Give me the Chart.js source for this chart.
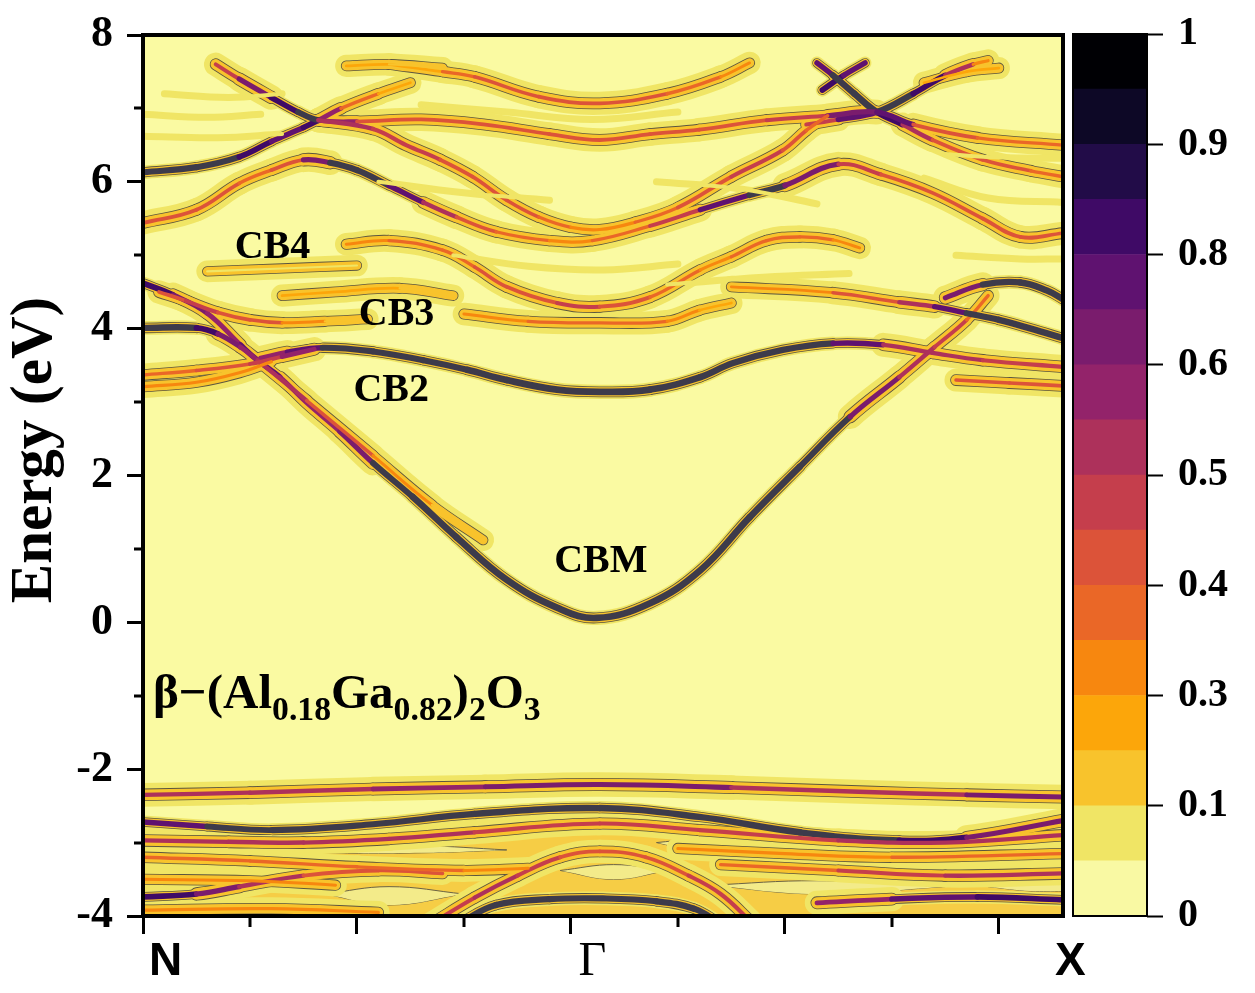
<!DOCTYPE html>
<html><head><meta charset="utf-8">
<script src="https://cdn.jsdelivr.net/npm/chart.js@4.4.1/dist/chart.umd.min.js"></script>
<style>
html,body{margin:0;padding:0;background:#fff;}
#wrap{position:relative;width:1255px;height:993px;overflow:hidden;}
#main{position:absolute;left:0;top:0;width:1255px;height:993px;}
#cbar{position:absolute;left:1060px;top:0;width:195px;height:993px;}
</style></head><body>
<div id="wrap"><canvas id="main" width="1255" height="993"></canvas><canvas id="cbar" width="195" height="993"></canvas></div>
<script>
// ---------- axes / ticks ----------
const kRange = [0, 8.6];
const eRange = [-4, 8];
const yMajorTicks = [-4, -2, 0, 2, 4, 6, 8];
const yMinorTicks = [-3, -1, 1, 3, 5, 7];
const kMajorTicks = [0, 2, 4, 6, 8];
const kMinorTicks = [1, 3, 5, 7];
const highSymNames = ['N', 'Γ', 'X'];
const highSymK = [0, 4.2, 8.6];
const bandLabelNames = ['CB4', 'CB3', 'CB2', 'CBM'];
const bandLabelK = [1.21, 2.37, 2.32, 4.28];
const bandLabelE = [5.10, 4.19, 3.16, 0.82];
// colour bar
const cbTicks = [0, 0.125, 0.25, 0.375, 0.5, 0.625, 0.75, 0.875, 1];
const cbLabels = ['0', '0.1', '0.3', '0.4', '0.5', '0.6', '0.8', '0.9', '1'];
const cbColors = ['#f9f9a3', '#f0e565', '#f8c32c', '#fca60a', '#f7870f', '#ea6727', '#dc5339', '#c53e4c',
                  '#ad315b', '#93236a', '#7a1c6d', '#5f1270', '#3f0a66', '#220c48', '#0d0826', '#000004'];

// ---------- bands: [k, E (eV), spectral weight] ----------
const bandCBM = [[0,4.62,.8],[0.28,4.46,.75],[0.6,4.21,.55],[0.91,3.78,.65],[1.07,3.57,.8],[1.28,3.34,.6],[1.53,2.99,.55],[1.84,2.6,.6],[2.15,2.17,.75],[2.52,1.71,.9],[2.93,1.16,.95],[3.4,0.58,.95],[3.87,0.2,.95],[4.24,0.06,.95],[4.74,0.26,.95],[5.21,0.71,.95],[5.67,1.43,.95],[6.14,2.12,.9],[6.61,2.8,.75],[7.07,3.34,.55],[7.4,3.75,.5],[7.7,4.12,.4],[7.9,4.45,.3]];
const bandN40 = [[0,4.01,.9],[0.5,4.01,.85],[0.7,3.93,.7],[0.91,3.75,.6],[1.07,3.57,.6],[1.53,3.02,.4],[2.15,2.27,.35],[2.7,1.6,.2],[3.18,1.12,.1]];
const bandN34a = [[0,3.37,.35],[0.5,3.43,.35],[1.0,3.52,.4],[1.3,3.62,.5],[1.6,3.72,.7]];
const bandN34b = [[0,3.21,.3],[0.5,3.27,.3],[0.9,3.4,.3],[1.2,3.55,.3]];
const bandCB2 = [[1.1,3.6,.6],[1.35,3.68,.6],[1.68,3.74,.85],[2.15,3.69,.85],[2.62,3.57,.8],[3.03,3.44,.9],[3.4,3.3,.95],[3.87,3.17,.95],[4.27,3.14,.95],[4.74,3.17,.95],[5.21,3.34,.9],[5.51,3.53,.85],[5.98,3.71,.9],[6.45,3.8,.85],[6.92,3.78,.55],[7.38,3.67,.5],[7.85,3.57,.5],[8.6,3.48,.45]];
const bandX32 = [[7.6,3.3,.35],[8.1,3.26,.4],[8.6,3.22,.4]];
const bandC4a = [[1.9,5.15,.25],[2.3,5.2,.3],[2.8,5.07,.35],[3.1,4.84,.35],[3.4,4.57,.4],[3.87,4.35,.45],[4.27,4.3,.45],[4.74,4.43,.4],[5.21,4.8,.3],[5.5,4.98,.3],[5.83,5.2,.35],[6.14,5.25,.35],[6.45,5.21,.3],[6.7,5.1,.2]];
const bandC3a = [[3.0,4.2,.25],[3.6,4.1,.3],[4.27,4.08,.35],[4.9,4.1,.3],[5.2,4.25,.25],[5.5,4.35,.2]];
const bandC3c = [[5.5,4.57,.2],[6.45,4.49,.3],[7.07,4.36,.45],[7.4,4.3,.6],[7.7,4.21,.8],[8.0,4.12,.9],[8.3,4.0,.9],[8.6,3.87,.9]];
const bandC3d = [[7.5,4.42,.5],[7.85,4.6,.8],[8.2,4.63,.9],[8.45,4.52,.9],[8.6,4.4,.9]];
const bandL1 = [[0.15,4.5,.4],[0.4,4.38,.45],[0.7,4.22,.45],[1.0,4.12,.4],[1.3,4.08,.35],[1.7,4.1,.2],[2.1,4.13,.12]];
const bandL2 = [[1.3,4.45,.2],[1.8,4.5,.25],[2.4,4.55,.2],[2.9,4.45,.15]];
const bandL3 = [[0.6,4.78,.1],[1.3,4.82,.14],[2.0,4.86,.1]];
const bandU1 = [[0,6.13,.85],[0.5,6.2,.85],[0.9,6.34,.8],[1.2,6.55,.7],[1.5,6.74,.7],[1.64,6.84,.8],[1.85,7.0,.4],[2.2,7.2,.3],[2.5,7.35,.15]];
const bandU2 = [[0.68,7.6,.3],[0.9,7.4,.6],[1.2,7.15,.75],[1.45,6.95,.8],[1.64,6.84,.8],[2.0,6.82,.4],[2.6,6.85,.4],[3.2,6.78,.4],[3.8,6.65,.4],[4.27,6.57,.45],[4.74,6.65,.4],[5.2,6.71,.4],[5.83,6.84,.45],[6.4,6.9,.45],[6.86,6.95,.9],[7.2,6.78,.5],[7.8,6.6,.35],[8.6,6.5,.3]];
const bandU3 = [[0,5.44,.4],[0.5,5.62,.45],[0.9,5.98,.35],[1.2,6.16,.35],[1.5,6.3,.5],[1.75,6.26,.85],[2.0,6.16,.85],[2.3,5.95,.8],[2.62,5.72,.6],[2.93,5.52,.45],[3.3,5.32,.35],[3.8,5.2,.3],[4.2,5.2,.3],[4.74,5.4,.35],[5.21,5.62,.55],[5.67,5.82,.85],[6.0,5.95,.85],[6.5,6.24,.5],[6.9,6.1,.4],[7.38,5.85,.4],[7.85,5.5,.4],[8.2,5.25,.45],[8.6,5.3,.35]];
const bandU4 = [[1.64,6.84,.6],[2.15,6.72,.45],[2.46,6.5,.5],[2.78,6.3,.45],[3.08,6.07,.4],[3.4,5.75,.4],[3.7,5.52,.35],[4.0,5.38,.3],[4.27,5.35,.3],[4.6,5.45,.3],[5.0,5.65,.35],[5.5,6.07,.5],[5.98,6.43,.45],[6.2,6.7,.4],[6.4,6.9,.3]];
const bandU6 = [[2.3,7.6,.15],[2.8,7.5,.3],[3.1,7.43,.35],[3.7,7.16,.4],[4.27,7.07,.4],[4.9,7.2,.4],[5.4,7.43,.3],[5.67,7.62,.2]];
const bandX1 = [[6.3,7.62,.5],[6.45,7.45,.9],[6.65,7.2,.9],[6.86,6.95,.95],[7.1,6.78,.6],[7.38,6.57,.45],[7.85,6.3,.4],[8.3,6.15,.35],[8.6,6.07,.35]];
const bandX2 = [[6.2,6.78,.4],[6.5,6.85,.5],[6.86,6.95,.95],[7.2,7.2,.8],[7.5,7.45,.7],[7.76,7.6,.4],[7.9,7.65,.2]];
const bandX3 = [[6.35,7.25,.6],[6.55,7.45,.9],[6.75,7.62,.5]];
const bandF1 = [[0,6.92,.08],[0.6,6.88,.08],[1.1,6.92,.08]];
const bandF2 = [[0,6.62,.08],[0.7,6.6,.08],[1.3,6.65,.08]];
const bandF3 = [[7.3,6.05,.08],[7.9,5.78,.08],[8.6,5.72,.08]];
const bandF4 = [[7.5,6.38,.1],[8.0,6.33,.1],[8.6,6.32,.1]];
const bandF5 = [[2.9,5.0,.08],[3.6,4.85,.08],[4.3,4.8,.08],[5.0,4.88,.08]];
const bandF6 = [[2.2,6.0,.08],[3.0,5.85,.08],[3.8,5.75,.08]];
const bandF7 = [[4.8,6.0,.08],[5.6,5.9,.08],[6.3,5.7,.08]];
const bandF8 = [[7.3,7.35,.15],[7.7,7.5,.25],[8.0,7.55,.2]];
const bandF9 = [[1.9,7.58,.25],[2.3,7.6,.2],[2.8,7.55,.15]];
const bandF10 = [[7.6,5.0,.08],[8.2,4.95,.08],[8.6,4.95,.08]];
const bandF11 = [[0.2,7.2,.08],[0.8,7.15,.08],[1.3,7.2,.08]];
const bandF12 = [[4.9,4.6,.08],[5.8,4.7,.08],[6.6,4.75,.08]];
const bandF13 = [[2.6,7.05,.08],[3.4,6.95,.08],[4.2,6.85,.08],[5.0,6.95,.08]];
const bandV1 = [[0,-2.35,.55],[1,-2.32,.5],[2.15,-2.27,.6],[3.2,-2.24,.6],[4.27,-2.21,.65],[5.5,-2.25,.6],[6.76,-2.31,.5],[7.7,-2.35,.6],[8.6,-2.38,.65]];
const bandV2 = [[0,-2.72,.7],[0.6,-2.78,.75],[1.21,-2.83,.85],[2.15,-2.75,.85],[3.1,-2.61,.85],[4.27,-2.53,.9],[5.2,-2.65,.9],[6.14,-2.86,.9],[7.07,-2.97,.85],[7.7,-2.93,.7],[8.6,-2.7,.6]];
const bandV3 = [[0,-2.97,.5],[0.8,-2.99,.55],[1.5,-3.0,.55],[2.3,-2.95,.5],[3.1,-2.86,.5],[4.27,-2.74,.45],[5.2,-2.83,.45],[6.5,-2.97,.5],[7.5,-3.0,.5],[8.6,-2.9,.5]];
const bandV4 = [[0,-3.74,.75],[0.5,-3.7,.75],[0.9,-3.6,.6],[1.5,-3.45,.45],[2.2,-3.38,.4],[2.8,-3.42,.35]];
const bandV5 = [[2.7,-4.1,.4],[3.1,-3.75,.5],[3.5,-3.45,.5],[3.9,-3.2,.45],[4.27,-3.12,.4],[4.7,-3.2,.4],[5.1,-3.45,.45],[5.4,-3.7,.5],[5.7,-4.1,.45]];
const bandV6 = [[2.95,-4.1,.8],[3.3,-3.85,.9],[3.8,-3.77,.85],[4.3,-3.76,.8],[4.8,-3.8,.85],[5.15,-3.9,.9],[5.4,-4.1,.8]];
const bandV7 = [[0,-3.2,.3],[1,-3.25,.35],[2,-3.33,.35],[3,-3.38,.3],[3.6,-3.35,.25]];
const bandV8 = [[5.4,-3.3,.3],[6.5,-3.38,.4],[7.5,-3.45,.5],[8.6,-3.42,.55]];
const bandV9 = [[6.3,-3.82,.5],[7.0,-3.77,.7],[7.8,-3.74,.75],[8.6,-3.78,.75]];
const bandV10 = [[0,-3.5,.25],[1,-3.52,.3],[1.8,-3.58,.25]];
const bandV11 = [[5.0,-3.08,.3],[6,-3.15,.3],[7,-3.2,.3],[8.6,-3.15,.35]];
const bandV12 = [[0,-3.92,.3],[1.2,-3.9,.3],[2.2,-3.95,.3]];
// diffuse valence-band weight: upper edge, and low-weight pockets inside it
const valenceEnvelope = [[0,-2.9],[1.5,-2.95],[3,-2.85],[4.27,-2.7],[5.5,-2.85],[7,-3.0],[8.6,-2.85]];
const pocketTops = [
  [[1.0,-3.1],[1.8,-3.04],[2.6,-3.04],[3.4,-3.1]],
  [[0,-3.36],[0.5,-3.34],[0.9,-3.4]],
  [[1.7,-3.7],[2.3,-3.6],[3.0,-3.7]],
  [[4.8,-3.0],[5.4,-2.92],[6.0,-2.95],[6.4,-3.05]],
  [[5.3,-3.58],[6.3,-3.52],[7.5,-3.6]],
  [[7.9,-3.6],[8.3,-3.55],[8.6,-3.56]],
  [[3.9,-3.38],[4.4,-3.3],[4.9,-3.38]]
];
const pocketBottoms = [
  [[1.0,-3.1],[1.8,-3.14],[2.6,-3.14],[3.4,-3.1]],
  [[0,-3.46],[0.5,-3.46],[0.9,-3.4]],
  [[1.7,-3.7],[2.3,-3.85],[3.0,-3.7]],
  [[4.8,-3.0],[5.4,-3.18],[6.0,-3.2],[6.4,-3.05]],
  [[5.3,-3.58],[6.3,-3.7],[7.5,-3.6]],
  [[7.9,-3.6],[8.3,-3.66],[8.6,-3.66]],
  [[3.9,-3.38],[4.4,-3.5],[4.9,-3.38]]
];

const bands = [bandF1,bandF2,bandF3,bandF4,bandF5,bandF6,bandF7,bandF8,bandF9,bandF10,bandF11,bandF12,bandF13,
  bandL3,bandL2,bandL1,bandC3a,bandC4a,bandC3c,bandC3d,bandU6,bandU4,bandU3,bandU2,bandU1,bandX2,bandX1,bandX3,
  bandN34b,bandN34a,bandX32,bandN40,bandCB2,bandCBM,
  bandV12,bandV10,bandV7,bandV11,bandV8,bandV5,bandV4,bandV9,bandV6,bandV3,bandV2,bandV1];

// ---------- styling helpers ----------
function lvl(w){ return Math.max(0, Math.min(15, Math.floor(w * 16))); }
function coreColor(w){ return w < 0.12 ? cbColors[1] : (w >= 0.8 ? '#3d3b4b' : cbColors[lvl(w)]); }
function coreW(w){ return w < 0.12 ? 4 : 1.5 + 5.5 * w; }
function padW(w){ return w < 0.12 ? 0 : (w >= 0.7 ? 2.5 : 6.5); }
function haloW(w){ return w < 0.12 ? 3 : (w >= 0.7 ? 5 : 13); }
function segWeight(ctx){
  const d = ctx.chart.data.datasets[ctx.datasetIndex].data;
  return (d[ctx.p0DataIndex].w + d[ctx.p1DataIndex].w) / 2;
}
const layers = [
  {order: 40, color: w => cbColors[1], width: w => coreW(w) + padW(w) + haloW(w)},
  {order: 30, color: w => w >= 0.12 ? '#5b553f' : 'rgba(0,0,0,0)', width: w => coreW(w) + padW(w) + 1.6},
  {order: 20, color: w => w >= 0.12 ? cbColors[2] : 'rgba(0,0,0,0)', width: w => coreW(w) + padW(w)},
  {order: 10, color: w => coreColor(w), width: w => coreW(w)}
];

const datasets = [];
datasets.push({
  data: valenceEnvelope.map(p => ({x: p[0], y: p[1]})),
  fill: 'start', backgroundColor: '#f6cd45', borderWidth: 0, pointRadius: 0,
  tension: 0.4, order: 50, clip: 0
});
pocketTops.forEach((top, i) => {
  const idx = datasets.length;
  datasets.push({
    data: top.map(p => ({x: p[0], y: p[1]})),
    fill: {target: idx + 1}, backgroundColor: '#f3eb8a', borderColor: '#6a6345', borderWidth: 1,
    pointRadius: 0, tension: 0.4, order: 45, clip: 0
  });
  datasets.push({
    data: pocketBottoms[i].map(p => ({x: p[0], y: p[1]})),
    fill: false, borderColor: '#6a6345', borderWidth: 1, pointRadius: 0, tension: 0.4, order: 45, clip: 0
  });
});
layers.forEach(L => {
  bands.forEach(b => {
    datasets.push({
      data: b.map(p => ({x: p[0], y: p[1], w: p[2]})),
      borderColor: L.color(b[0][2]),
      borderWidth: L.width(b[0][2]),
      segment: {
        borderColor: ctx => L.color(segWeight(ctx)),
        borderWidth: ctx => L.width(segWeight(ctx))
      },
      pointRadius: 0, fill: false, tension: 0.4,
      borderCapStyle: 'round', borderJoinStyle: 'round',
      order: L.order, clip: 0
    });
  });
});

const serif = '"Liberation Serif","Times New Roman",serif';
const sans = '"Liberation Sans",Arial,sans-serif';
const noAxisPad = s => { s.paddingTop = 0; s.paddingBottom = 0; s.paddingLeft = 0; s.paddingRight = 0; };

const mainPlugin = {
  id: 'decor',
  beforeDraw(chart){
    const {ctx, chartArea: a} = chart;
    ctx.save();
    ctx.fillStyle = '#fafaa2';
    ctx.fillRect(a.left, a.top, a.right - a.left, a.bottom - a.top);
    ctx.restore();
  },
  afterDraw(chart){
    const {ctx, chartArea: a, scales: {x, y}} = chart;
    ctx.save();
    ctx.strokeStyle = '#000'; ctx.lineWidth = 4;
    ctx.strokeRect(a.left, a.top, a.right - a.left, a.bottom - a.top);
    ctx.lineWidth = 3;
    ctx.beginPath();
    yMinorTicks.forEach(v => { const py = Math.round(y.getPixelForValue(v)); ctx.moveTo(a.left - 9, py); ctx.lineTo(a.left, py); });
    kMinorTicks.forEach(v => { const px = Math.round(x.getPixelForValue(v)); ctx.moveTo(px, a.bottom); ctx.lineTo(px, a.bottom + 11); });
    ctx.stroke();
    ctx.fillStyle = '#000';
    ctx.textBaseline = 'middle';
    const ly = 962;
    ctx.font = 'bold 46px ' + sans; ctx.textAlign = 'left';
    ctx.fillText(highSymNames[0], x.getPixelForValue(highSymK[0]) + 6, ly);
    ctx.font = '48px ' + serif; ctx.textAlign = 'center';
    ctx.fillText(highSymNames[1], x.getPixelForValue(highSymK[1]), ly);
    ctx.font = 'bold 46px ' + sans; ctx.textAlign = 'left';
    ctx.fillText(highSymNames[2], x.getPixelForValue(highSymK[2]) - 8, ly);
    ctx.font = 'bold 40px ' + serif; ctx.textAlign = 'center';
    bandLabelNames.forEach((t, i) => ctx.fillText(t, x.getPixelForValue(bandLabelK[i]), y.getPixelForValue(bandLabelE[i])));
    const parts = [['β−(Al', 0], ['0.18', 1], ['Ga', 0], ['0.82', 1], [')', 0], ['2', 1], ['O', 0], ['3', 1]];
    const base = 48, sub = 33;
    let total = 0;
    parts.forEach(p => { ctx.font = 'bold ' + (p[1] ? sub : base) + 'px ' + serif; total += ctx.measureText(p[0]).width; });
    const f = 388 / total;
    let px = x.getPixelForValue(0) + 10;
    const py = y.getPixelForValue(-1.17);
    ctx.textAlign = 'left'; ctx.textBaseline = 'alphabetic';
    parts.forEach(p => {
      ctx.font = 'bold ' + ((p[1] ? sub : base) * f).toFixed(1) + 'px ' + serif;
      ctx.fillText(p[0], px, py + (p[1] ? 12 * f : 0));
      px += ctx.measureText(p[0]).width;
    });
    ctx.translate(36, 450);
    ctx.rotate(-Math.PI / 2);
    ctx.textAlign = 'center'; ctx.textBaseline = 'middle';
    ctx.font = 'bold 59px ' + serif;
    ctx.fillText('Energy (eV)', 0, 0);
    ctx.restore();
  }
};

new Chart(document.getElementById('main'), {
  type: 'line',
  data: {datasets},
  options: {
    responsive: false, animation: false, devicePixelRatio: 1,
    layout: {autoPadding: false, padding: {left: 0, top: 35, right: 192, bottom: 0}},
    plugins: {legend: {display: false}, tooltip: {enabled: false}},
    scales: {
      x: {
        type: 'linear', min: kRange[0], max: kRange[1],
        afterBuildTicks: s => { s.ticks = kMajorTicks.map(v => ({value: v})); },
        ticks: {callback: () => '', autoSkip: false, includeBounds: false},
        grid: {drawOnChartArea: false, drawTicks: true, tickLength: 18, tickWidth: 3, tickColor: '#000'},
        border: {display: false},
        afterFit: s => { s.height = 77; noAxisPad(s); }
      },
      y: {
        type: 'linear', min: eRange[0], max: eRange[1],
        afterBuildTicks: s => { s.ticks = yMajorTicks.map(v => ({value: v})); },
        ticks: {callback: v => String(v), autoSkip: false, color: '#000', padding: 14,
                font: {family: serif, weight: 'bold', size: 44}},
        grid: {drawOnChartArea: false, drawTicks: true, tickLength: 16, tickWidth: 3, tickColor: '#000'},
        border: {display: false},
        afterFit: s => { s.width = 143; noAxisPad(s); }
      }
    }
  },
  plugins: [mainPlugin]
});

// ---------- colour bar ----------
const cbStep = cbTicks[cbTicks.length - 1] / cbColors.length;
new Chart(document.getElementById('cbar'), {
  type: 'bar',
  data: {labels: [''], datasets: cbColors.map(c => ({data: [cbStep], backgroundColor: c, borderWidth: 0, barPercentage: 1, categoryPercentage: 1}))},
  options: {
    responsive: false, animation: false, devicePixelRatio: 1,
    layout: {autoPadding: false, padding: {left: 13, top: 34, right: 0, bottom: 77}},
    plugins: {legend: {display: false}, tooltip: {enabled: false}},
    scales: {
      x: {stacked: true, display: false},
      y: {
        stacked: true, position: 'right', min: 0, max: 1,
        afterBuildTicks: s => { s.ticks = cbTicks.map(v => ({value: v})); },
        ticks: {callback: (v, i) => cbLabels[i], color: '#000', padding: 15, autoSkip: false,
                font: {family: serif, weight: 'bold', size: 40}},
        grid: {drawOnChartArea: false, drawTicks: true, tickLength: 16, tickWidth: 2, tickColor: '#000'},
        border: {display: false},
        afterFit: s => { s.width = 108; noAxisPad(s); }
      }
    }
  },
  plugins: [{
    id: 'cbframe',
    afterDraw(chart){
      const {ctx, chartArea: a} = chart;
      ctx.save(); ctx.strokeStyle = '#000'; ctx.lineWidth = 2;
      ctx.strokeRect(a.left, a.top, a.right - a.left, a.bottom - a.top);
      ctx.restore();
    }
  }]
});
</script>
</body></html>
